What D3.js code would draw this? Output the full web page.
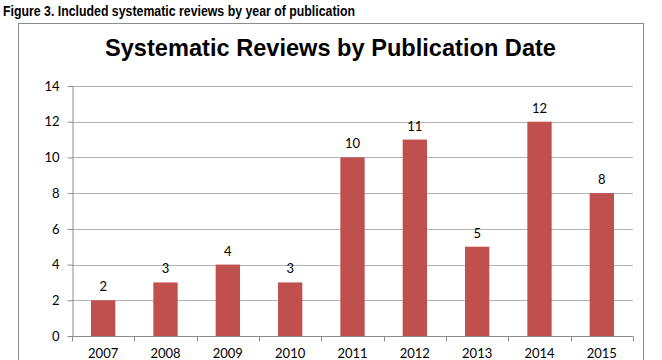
<!DOCTYPE html>
<html><head><meta charset="utf-8">
<script src="https://cdn.jsdelivr.net/npm/d3@7"></script>
<style>body{margin:0;background:#fff}</style>
</head><body>
<svg id="c" width="662" height="360"></svg>
<script>
const years = ["2007","2008","2009","2010","2011","2012","2013","2014","2015"];
const counts = [2,3,4,3,10,11,5,12,8];
const yTicks = [0,2,4,6,8,10,12,14];

const svg = d3.select("#c");
const m = {left:72, right:633, top:86, bottom:336};

svg.append("text").attr("x",3).attr("y",16)
  .attr("font-family","'Liberation Sans Narrow','Arial Narrow','Liberation Sans',Arial,sans-serif")
  .attr("font-weight","bold").attr("font-size",15).attr("fill","#000")
  .attr("textLength",352).attr("lengthAdjust","spacingAndGlyphs")
  .text("Figure 3. Included systematic reviews by year of publication");

svg.append("rect").attr("x",18.5).attr("y",23.5).attr("width",625).attr("height",345)
  .attr("fill","#fff").attr("stroke","#8c8c8c").attr("stroke-width",1);

svg.append("text").attr("x",105).attr("y",56)
  .attr("font-family","'Liberation Sans',Arial,sans-serif").attr("font-weight","bold")
  .attr("font-size",24).attr("fill","#000")
  .attr("textLength",451).attr("lengthAdjust","spacingAndGlyphs")
  .text("Systematic Reviews by Publication Date");

const x = d3.scaleBand().domain(years).range([m.left,m.right]).paddingInner(0.61).paddingOuter(0.305);
const xb = d3.scaleBand().domain(years).range([m.left,m.right]);
const y = d3.scaleLinear().domain([0,14]).range([m.bottom,m.top]);

// gridlines
svg.append("g").selectAll("line").data(yTicks.filter(d=>d>0)).join("line")
  .attr("x1",m.left).attr("x2",m.right)
  .attr("y1",d=>Math.round(y(d))+0.5).attr("y2",d=>Math.round(y(d))+0.5)
  .attr("stroke","#b3b3b3").attr("stroke-width",1);

// y axis
const ya = svg.append("g").attr("transform",`translate(${m.left+0.5},0)`)
  .call(d3.axisLeft(y).tickValues(yTicks).tickSize(5).tickPadding(8).tickSizeOuter(0));
ya.select(".domain").attr("stroke","#8c8c8c");
ya.selectAll(".tick line").attr("stroke","#8c8c8c");
ya.selectAll("text").attr("font-family","Lato,'Open Sans',sans-serif").attr("font-size",13).attr("fill","#000");

// x axis
const xa = svg.append("g").attr("transform",`translate(0,${m.bottom+0.5})`);
xa.append("line").attr("x1",m.left).attr("x2",m.right).attr("stroke","#8c8c8c");
const bounds = years.map(d=>xb(d)).concat([m.right]);
xa.selectAll("line.t").data(bounds).join("line").attr("class","t")
  .attr("x1",d=>Math.round(d)+0.5).attr("x2",d=>Math.round(d)+0.5).attr("y1",0).attr("y2",5)
  .attr("stroke","#8c8c8c");
xa.selectAll("text").data(years).join("text")
  .attr("x",d=>xb(d)+xb.bandwidth()/2).attr("y",21).attr("text-anchor","middle")
  .attr("font-family","Lato,'Open Sans',sans-serif").attr("font-size",13).attr("fill","#000")
  .text(d=>d);

// bars
svg.append("g").selectAll("rect").data(years).join("rect")
  .attr("x",d=>x(d)).attr("width",x.bandwidth())
  .attr("y",(d,i)=>y(counts[i])).attr("height",(d,i)=>y(0)-y(counts[i]))
  .attr("fill","#c0504d");

// labels
svg.append("g").selectAll("text").data(years).join("text")
  .attr("x",d=>x(d)+x.bandwidth()/2).attr("y",(d,i)=>y(counts[i])-9)
  .attr("text-anchor","middle")
  .attr("font-family","Lato,'Open Sans',sans-serif").attr("font-size",13).attr("fill","#000")
  .text((d,i)=>counts[i]);
</script>
</body></html>
